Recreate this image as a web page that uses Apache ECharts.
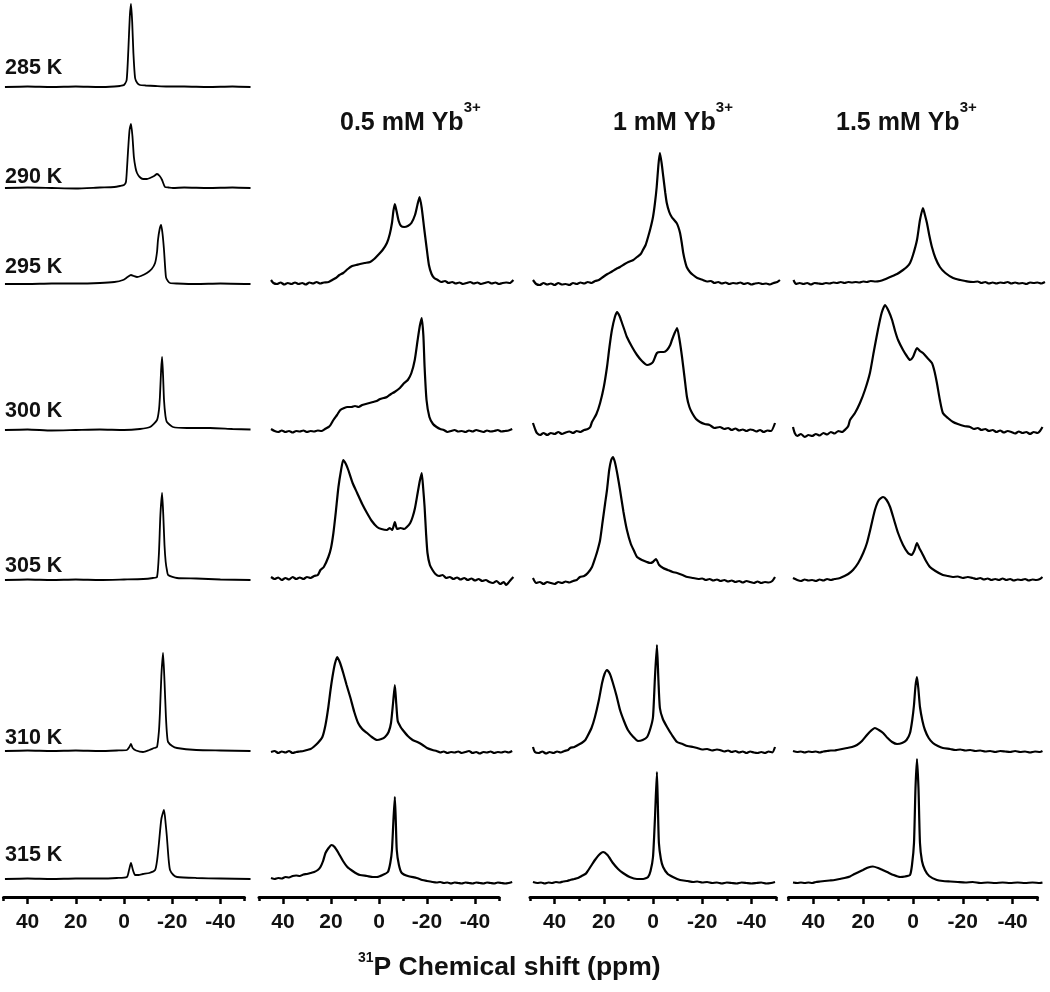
<!DOCTYPE html>
<html><head><meta charset="utf-8">
<script src="https://cdn.jsdelivr.net/npm/echarts@6/dist/echarts.min.js"></script>
<style>html,body{margin:0;padding:0;background:#fff}#c{width:1050px;height:992px}</style>
</head><body><div id="c"></div>
<script>
const FONT = 'Liberation Sans, Arial, Helvetica, sans-serif';
// axis tick values (ppm)
const majorTicks = [40, 20, 0, -20, -40];
const minorTicks = [50, 30, 10, -10, -30, -50];
// labels
const temps = ['285 K', '290 K', '295 K', '300 K', '305 K', '310 K', '315 K'];
const headers = ['0.5 mM Yb', '1 mM Yb', '1.5 mM Yb'];
const headerSup = '3+';
const axisSup = '31';
const axisTitle = 'P Chemical shift (ppm)';

// ---- spectra: [ppm, intensity (a.u.)] ----
// no Yb3+
const s0_285 = [[49.4,0],[40,0.5],[30,0],[20,0.5],[10,0],[4,0.5],[1.7,1],[0,2],[-1.1,7],[-1.8,37],[-2.4,70],[-2.9,83],[-3.4,65],[-3.9,34],[-4.6,9],[-5.5,4],[-6.6,2],[-9,1.5],[-13,1],[-18,0.5],[-25,0.5],[-35,0],[-45,0.5],[-52.5,0]];
const s0_290 = [[49.4,0],[40,0.5],[30,0],[20,-0.5],[10,0.5],[4,1],[1.7,2],[0,3],[-0.8,6],[-1.2,18],[-1.7,38],[-2.3,58],[-2.9,64],[-3.5,52],[-4.1,31],[-4.8,20],[-5.4,15],[-6.5,11],[-7.9,9],[-9.5,9],[-10.8,10],[-12.5,12],[-13.7,14],[-14.8,12],[-15.8,8],[-17,1],[-18.5,0.5],[-20.3,0],[-25,0.5],[-35,0],[-45,0.5],[-52.5,0]];
const s0_295 = [[49.4,0],[40,0],[30,0.5],[20,0.5],[10,1],[4,2],[0.4,4],[-1.5,7],[-2.9,9],[-4,8],[-5.4,7],[-7,8],[-9.5,11],[-11.5,15],[-12.9,21],[-13.7,32],[-14.1,44],[-14.8,55],[-15.4,59],[-16,50],[-16.6,34],[-17.4,7],[-18.2,3],[-19.1,1],[-22,0.5],[-30,0],[-40,0.5],[-52.5,0]];
const s0_300 = [[49.4,0],[40,0.5],[30,-0.5],[20,0],[10,0.5],[0,0],[-6.6,1],[-10.8,3],[-13.7,10],[-14.5,20],[-14.9,33],[-15.4,60],[-15.8,73],[-16.2,55],[-16.6,30],[-17.2,14],[-17.8,8],[-20.3,3],[-26.1,2],[-35.7,2],[-45,1],[-52.5,0.5]];
const s0_305 = [[49.4,0],[40,0.5],[30,0],[20,0.5],[10,0],[0,0.5],[-8,1],[-12,2],[-13.7,3],[-14.5,27],[-15.1,65],[-15.8,87],[-16.3,65],[-16.8,35],[-17.3,18],[-17.8,10],[-18.3,5],[-22,2],[-30,1.5],[-40,0.5],[-52.5,0]];
const s0_310 = [[49.4,0],[40,0.5],[30,0],[20,0.5],[10,0],[3,0.5],[-1.2,1],[-2.2,4],[-2.9,7],[-3.6,3],[-5,0.5],[-7.9,-1],[-10.5,1],[-12.5,3],[-13.7,4],[-14.5,20],[-14.9,38],[-15.5,75],[-16.2,98],[-16.8,70],[-17.4,34],[-17.9,15],[-18.3,9],[-20,5],[-22,3],[-30,1],[-40,0.5],[-52.5,0]];
const s0_315 = [[49.4,0],[40,0.5],[30,0],[20,0.5],[10,0.5],[3,1],[-1.2,2],[-2.1,9],[-2.9,16],[-3.7,9],[-4.6,4],[-6,4],[-7.9,5],[-10.5,6],[-12.9,9],[-13.8,20],[-14.5,36],[-15.5,60],[-16.6,69],[-17.3,55],[-17.8,42],[-18.5,20],[-19.1,9],[-20.5,4],[-22,2],[-30,1],[-40,0.5],[-52.5,0]];

// 0.5 mM Yb3+
const s1_295 = [[45,3],[44,0],[42.5,-1],[41,0.5],[39.5,-1.5],[38,0],[36.5,-1],[35,0.5],[33.5,-1],[32,0],[30.5,-1.5],[29,0.5],[27.5,-0.5],[26,1],[24.5,-0.5],[23,0.5],[21,1],[19.5,3],[18,5],[16.5,8],[14.9,10],[13,14],[11.2,17],[9.5,18],[7.9,19],[6,20],[3.7,21],[2,24],[0.4,28],[-1.5,33],[-3.3,40],[-4.5,49],[-5.4,60],[-6,72],[-6.6,79],[-7.3,72],[-8.2,62],[-9.2,57],[-10.5,56],[-12,57],[-13.5,60],[-15,68],[-16,78],[-16.9,86],[-17.8,75],[-18.8,55],[-19.8,36],[-20.8,18],[-21.9,9],[-23,5],[-24.5,3],[-26,1],[-27.5,2],[-29,0],[-30.5,1],[-32,-0.5],[-33.5,0.5],[-35,-1],[-36.5,0],[-38,1],[-39.5,-0.5],[-41,0.5],[-42.5,-1],[-44,0],[-45.5,1],[-47,-0.5],[-48.5,0.5],[-50,-1],[-51.5,0],[-53,0.5],[-54.5,0],[-56,3]];
const s1_300 = [[45,2],[43.5,0],[42,-1],[40.5,0.5],[39,-1],[37.5,0],[36,-1.5],[34.5,0],[33,-0.5],[31.5,0.5],[30,-1],[28.5,0],[27,-0.5],[25.5,0.5],[24,0],[22.5,2],[21,4],[20.2,6],[19,11],[17.5,16],[16.1,21],[14.5,23],[13.2,24],[11.5,24],[10,25],[8.5,24],[7,26],[5.5,27],[4,28],[2.5,29],[1,30],[-0.5,32],[-2,33],[-3.3,34],[-5,37],[-6.5,39],[-8.7,43],[-10.5,48],[-12,51],[-13.5,58],[-14.9,71],[-16.1,91],[-17,105],[-17.8,113],[-18.5,95],[-19,64],[-19.8,31],[-21,14],[-22.5,7],[-24,4],[-25.5,2],[-27,1],[-28.5,-1],[-30,0],[-31.5,1],[-33,-0.5],[-34.5,0],[-36,-1],[-37.5,0.5],[-39,-0.5],[-40.5,1],[-42,0],[-43.5,-1],[-45,0.5],[-46.5,-0.5],[-48,0],[-49.5,1],[-51,-0.5],[-52.5,0],[-54,0.5],[-55.5,2]];
const s1_305 = [[45,1],[43.5,-1],[42,0.5],[40.5,-2],[39,0],[37.5,-1.5],[36,1],[34.5,-1],[33,0.5],[31.5,-1],[30,1],[28.5,0],[27,2],[25.5,3],[24.4,8],[23,11],[21.1,21],[20,30],[19,45],[18,66],[16.9,91],[15.8,108],[14.9,118],[13.8,114],[12.8,108],[11,95],[9.1,85],[7,74],[5,65],[3,57],[0.8,51],[-1,49],[-3.3,48],[-4.5,50],[-5.5,48],[-6.6,56],[-7.5,49],[-9,50],[-10.5,49],[-11.6,51],[-13,55],[-14,61],[-15,70],[-16.1,85],[-17,97],[-17.8,105],[-18.4,90],[-19,71],[-19.6,45],[-20.2,25],[-21.2,13],[-22.3,8],[-23.5,4],[-25,2],[-26.5,3],[-28,0],[-29.5,1],[-31,-1],[-32.5,0.5],[-34,-1.5],[-35.5,0],[-37,-2],[-38.5,-0.5],[-40,-2.5],[-41.5,-1],[-43,-3],[-44.5,-2],[-46,-4],[-47.5,-5],[-49,-3],[-50.5,-6],[-52,-4],[-53,-7],[-54.5,-3],[-56,1]];
const s1_310 = [[45,0],[43.5,1],[42,-1],[40.5,0.5],[39,-0.5],[37.5,1],[36,-1],[34.5,0],[33,0.5],[31.5,1],[30,2],[28.5,3],[27.3,5],[25.5,9],[23.6,15],[22.3,27],[21.1,45],[20.2,62],[19.4,75],[18.4,88],[17.4,95],[16.2,89],[14.9,79],[13.5,67],[12,55],[10.3,40],[8.7,29],[7,23],[5,19],[3,15],[0.8,12],[-1,13],[-2.5,15],[-4,20],[-5,29],[-5.9,50],[-6.6,67],[-7.2,48],[-7.8,31],[-9,25],[-9.9,22],[-12,16],[-14,12],[-16,10],[-18.2,7],[-20,4],[-22.3,2],[-24,1],[-25.5,-0.5],[-27,0.5],[-28.5,-1],[-30,0],[-31.5,-0.5],[-33,0.5],[-34.5,-1],[-36,0],[-37.5,1],[-39,-1],[-40.5,0],[-42,-1.5],[-43.5,0],[-45,-0.5],[-46.5,0.5],[-48,-1],[-49.5,0],[-51,-0.5],[-52.5,0.5],[-54,-0.5],[-55.5,1]];
const s1_315 = [[45,5],[43.5,4],[42,5],[40.5,4.5],[39,6],[37.5,5.5],[36,7],[34.5,7.5],[33,7],[31.5,8.5],[30,9],[28.5,10],[27,11],[25.5,13],[24.4,16],[23.3,22],[22.3,30],[21,35],[19.8,38],[18.5,36],[16.9,30],[15,22],[13.2,16],[11,12],[9,9],[7.9,8],[5,7],[2.5,6],[0.8,6],[-1.5,8],[-3.7,11],[-4.7,20],[-5.4,33],[-6,62],[-6.6,86],[-7,62],[-7.4,33],[-8.3,18],[-9.5,10],[-12,7],[-15.7,5],[-18,3],[-20,2],[-22.3,1],[-24,0.5],[-25.5,1],[-27,0],[-28.5,0.5],[-30,-0.5],[-31.5,0.5],[-33,0],[-34.5,-0.5],[-36,0.5],[-37.5,0],[-39,-0.5],[-40.5,0.5],[-42,0],[-43.5,-0.5],[-45,0.5],[-46.5,0],[-48,-0.5],[-49.5,0.5],[-51,0],[-52.5,-0.5],[-54,0],[-55.5,1]];

// 1 mM Yb3+
const s2_295 = [[48.8,3],[47.5,-1],[46,-2],[44.5,0],[43,-1.5],[41.5,-0.5],[40,-2],[38.5,0],[37,-1.5],[35.5,-1],[34,-2],[32.5,0],[31,-1],[29.5,0.5],[28,-0.5],[26.5,1],[25,0],[23.5,2],[22,3],[20.3,6],[18.5,9],[17,11],[15,14],[13.4,16],[11.5,19],[10,21],[8,23],[6.5,26],[5,29],[4.1,33],[3,38],[2,46],[1,55],[0,66],[-0.8,80],[-1.5,96],[-2.2,118],[-2.8,130],[-3.5,120],[-4.2,106],[-5,90],[-5.6,80],[-6.6,71],[-7.6,66],[-8.6,63],[-9.6,60],[-10.3,56],[-11,50],[-11.7,40],[-12.3,30],[-13,22],[-13.7,16],[-15,11],[-16.3,8],[-18,5],[-20.3,3],[-22,1.5],[-23.5,2],[-25,0],[-26.5,1],[-28,-0.5],[-29.5,0.5],[-31,-1],[-32.5,0],[-34,-0.5],[-35.5,0.5],[-37,-1],[-38.5,0],[-40,-1.5],[-41.5,-0.5],[-43,0],[-44.5,-1],[-46,-0.5],[-47.5,-1.5],[-49,0],[-50.5,1],[-51.6,3]];
const s2_300 = [[48.8,9],[47.8,2],[47.2,-1],[45.9,-3],[44.5,-1],[43,-3],[41.5,-1],[40,-2],[38.5,0],[37,-2],[35.5,-0.5],[34,0.5],[32.5,-1],[31,1],[29.5,0],[28,2],[26.5,3],[25.5,5],[24.8,10],[23,18],[21.5,29],[20,45],[18.7,65],[17.7,85],[16.7,102],[15.5,115],[14.6,120],[13.6,116],[12.6,109],[11.6,102],[10.6,95],[8.5,85],[6.5,77],[4.5,71],[2.4,67],[1,68],[0,70],[-1.6,79],[-3,80],[-4.4,80],[-5.7,82],[-7,87],[-7.7,92],[-8.8,99],[-9.8,104],[-10.8,92],[-11.8,75],[-12.8,55],[-13.8,35],[-14.8,25],[-15.9,19],[-17.5,13],[-19.1,10],[-21,8],[-23,7],[-25,4],[-27.2,5],[-29,3],[-30.5,4],[-32,2],[-33.5,3.5],[-35,1.5],[-36.5,2.5],[-38,1],[-39.5,2.5],[-40.7,2],[-42,0.5],[-43.5,2],[-45,0],[-46.5,1.5],[-48,1],[-49.6,9]];
const s2_305 = [[48.8,4],[47.5,-1],[46,0],[44.5,-2],[43,0],[41.5,-1],[40,-2],[38.5,0],[37,-1],[35.5,0.5],[34,-0.5],[32.5,1],[31,2],[29.7,5],[28,6],[26.5,9],[24.8,15],[23.5,24],[22.5,32],[21.5,42],[20.5,60],[19.5,78],[18.7,92],[17.8,112],[17,122],[16.3,125],[15.5,120],[14.5,108],[13.4,92],[12,70],[10.6,52],[9,38],[7.5,30],[6.5,25],[4.5,22],[2.5,20],[1.2,19],[0,20],[-1.2,23],[-2.5,17],[-4.1,14],[-6,12],[-8,10],[-9.8,9],[-12,7],[-14,5],[-16.3,4],[-18.5,3],[-20,3.5],[-21.5,2],[-23,3],[-24.5,1.5],[-26,2.5],[-27.5,1],[-29,2],[-30.5,0.5],[-32,1.5],[-33.5,0],[-35,1],[-36.5,-0.5],[-38,1],[-39.5,0],[-41,-1],[-42.5,0.5],[-44,-1],[-45.5,0],[-47,-0.5],[-48.5,1],[-49.6,5]];
const s2_310 = [[48.8,5],[48,0],[46.5,-1],[45,0.5],[43.5,-1.5],[42,0],[40.5,-1],[39,0.5],[37.5,-0.5],[36,1],[34.5,2],[33.7,4],[32,5],[30.5,7],[29,9],[27.5,12],[26.8,15],[25,24],[23.6,35],[22,52],[20.7,69],[19.7,78],[18.7,82],[17.5,78],[16.3,69],[14.8,56],[13.4,42],[11.8,31],[10.2,22],[8,15],[6.1,11],[4.2,12],[2.4,15],[1,24],[0,35],[-0.8,75],[-1.6,107],[-2.2,72],[-2.8,44],[-4,33],[-5.7,25],[-7.7,17],[-9.8,10],[-12,8],[-14,6],[-16.3,5],[-18,4],[-20,2.5],[-22,3],[-24,1.5],[-26,2.5],[-27.2,2],[-29,0.5],[-30.5,1.5],[-32,0],[-33.5,1],[-35,-0.5],[-36.5,0.5],[-38,-1],[-39.5,0.5],[-41,-0.5],[-42.5,-1],[-44,0],[-45.5,-1],[-47,0.5],[-48.5,-0.5],[-49.6,5]];
const s2_315 = [[48.8,1],[47,0],[45.5,0.5],[44,-0.5],[42.5,0.5],[41,0],[39.5,1],[38,0.5],[36.5,1.5],[35,2],[33.7,3],[32,4],[30.5,5],[29,7],[27.5,9],[26.8,11],[25.2,17],[23.6,23],[22,28],[20.3,31],[18.5,28],[16.3,20],[14.2,14],[12.2,10],[9.5,6],[6.5,4],[4,4],[2,6],[1,12],[0,26],[-0.8,65],[-1.6,111],[-2,75],[-2.4,40],[-3.2,24],[-4.1,16],[-6,9],[-8.1,6],[-11,3],[-14,2],[-16.3,1],[-18,1.5],[-20,0.5],[-22,1],[-24,0],[-26,0.5],[-28,-0.5],[-30,0.5],[-32,0],[-34,-0.5],[-36,0.5],[-38,0],[-40,-0.5],[-42,0],[-44,0.5],[-46,-0.5],[-48,0],[-49.6,1]];

// 1.5 mM Yb3+
const s3_295 = [[48,3],[47,-1],[45.5,0],[44,-1],[42.5,0],[41,-1.5],[39.5,0],[38,-0.5],[36.5,-1],[35,0],[33.5,-0.5],[32,0.5],[30.5,0],[29,1],[27.5,0],[26,1],[24.5,0.5],[23,1],[21.5,0.5],[20,1.5],[18.5,1],[17,2],[15,1.5],[13.3,2],[11.5,3.5],[9.2,6],[6.4,9],[4,13],[2.5,16],[1.2,20],[0,28],[-1.6,43],[-2.8,63],[-4,75],[-4.8,68],[-5.6,60],[-6.6,47],[-7.6,36],[-9,25],[-10.8,16],[-13,10],[-16.1,5],[-19,3],[-21,2],[-24.1,1],[-26,1.5],[-27.5,0],[-29,1],[-30.5,-0.5],[-32,0.5],[-33.5,-0.5],[-35,0.5],[-36.5,0],[-38,1],[-39.5,-0.5],[-41,0.5],[-42.5,-0.5],[-44,0],[-45.5,-1],[-47,0.5],[-48.5,0],[-50,0.5],[-51.5,-0.5],[-53,1]];
const s3_300 = [[48.2,6],[47.5,0],[46.5,-3],[45,-1],[43.5,-4],[42,-2],[40.5,-3],[39,-1],[37.5,-2.5],[36,0],[34.5,-1.5],[33,1],[31.5,-0.5],[30,2],[28.5,1],[27,4],[26,7],[25.3,13],[23.3,20],[21.3,30],[19.3,43],[17.3,60],[15.7,82],[14.1,103],[12.6,120],[11.2,128],[9.8,122],[8.4,113],[7.2,102],[6,93],[4,83],[2.5,77],[1.2,73],[0,76],[-1.6,85],[-2.8,82],[-4,80],[-5.8,75],[-7.6,70],[-8.6,62],[-9.6,50],[-10.8,33],[-12,20],[-14,15],[-16.1,11],[-18,9],[-20.5,7],[-22.9,6],[-24.5,4],[-26,5],[-27.5,3],[-29,4],[-30.5,2],[-32,3],[-33.5,1],[-35,2.5],[-36.5,0.5],[-38,2],[-39.5,1],[-41,-0.5],[-42.5,1.5],[-44,0],[-45.5,1],[-47,-1],[-48.5,1],[-50,0],[-51,2],[-52,6]];
const s3_305 = [[48.2,2],[46.5,0],[45,-1],[43.5,0.5],[42,-0.5],[40.5,0],[39,-1],[37.5,0.5],[36,-0.5],[34.5,1],[33,0],[31.5,1],[30,1.5],[29.3,2],[27.5,4],[26,6],[24.1,10],[22,17],[20,27],[18.5,37],[17,52],[15.3,70],[13.7,80],[12,83],[10.6,80],[9.2,73],[7.6,60],[6,47],[4,35],[2,27],[0.5,25],[-0.6,30],[-1.6,37],[-2.5,32],[-3.6,27],[-5,20],[-6.8,13],[-9,9],[-12,5],[-14,4],[-16,3],[-18,3.5],[-20,2],[-22,3],[-24,2],[-25.5,1],[-27,2],[-28.5,0.5],[-30,1.5],[-31.5,0],[-33,1],[-34.5,0],[-36,1.5],[-37.5,0],[-39,1],[-40.5,-0.5],[-42,0.5],[-43.5,0],[-45,1],[-46.5,-0.5],[-48,0.5],[-49.5,0],[-51,1],[-52,3]];
const s3_310 = [[48.2,1],[46.5,0],[45,0.5],[43.5,-0.5],[42,0.5],[40.5,0],[39,0.5],[37.5,-0.5],[36,0.5],[34.5,1],[33,1.5],[31.5,1.5],[30.5,2],[28.5,3],[26.5,4],[24.5,5],[22.5,7],[20.5,11],[18.5,17],[17,21],[15.3,24],[13.7,22],[12,19],[10.2,14],[8.4,10],[6.4,8],[4.4,9],[2.6,12],[1.2,19],[0.3,32],[-0.4,47],[-1,66],[-1.6,75],[-2.2,62],[-2.8,45],[-3.8,31],[-4.8,22],[-6.3,14],[-8,9],[-10,6],[-12,4],[-14.9,3],[-17,2],[-19,2.5],[-21,1.5],[-23,2],[-25,1],[-27,1.5],[-29,0.5],[-31,1],[-33,0],[-35,1],[-37,0.5],[-39,0],[-41,1],[-43,0],[-45,0.5],[-47,-0.5],[-49,0.5],[-51,0],[-52,1]];
const s3_315 = [[48.2,0.5],[46.5,0],[45,0.5],[43.5,0],[42,0.5],[40.5,0],[39,1],[37.3,1.5],[35.5,2],[33.5,2.5],[31.5,3],[29.5,4],[27.5,5],[25.3,6.5],[23.5,9],[21.8,11],[20.1,13],[18,15.5],[16.1,16.5],[14,15],[12.2,13],[10.4,11],[7.8,8],[5.2,6],[3.2,6.5],[1.2,8],[0.4,18],[-0.4,40],[-1,95],[-1.6,124],[-2.2,95],[-2.8,40],[-3.6,22],[-4.8,13],[-6.5,7],[-9.6,3],[-12,2],[-15,1.5],[-18,1],[-21,0.5],[-24,1],[-27,0],[-30,0.5],[-33,0],[-36,0.5],[-39,0],[-42,0.5],[-45,0],[-48,0.5],[-51,0],[-52,0.5]];

// ---- layout ----
const columns = [
  {x0: 124, k: 2.41, lw: 1.8, base: [87, 188, 284, 430, 580, 751, 879], data: [s0_285, s0_290, s0_295, s0_300, s0_305, s0_310, s0_315]},
  {x0: 379, k: 2.40, lw: 2.2, base: [283, 431, 578, 752, 883], data: [s1_295, s1_300, s1_305, s1_310, s1_315]},
  {x0: 653, k: 2.46, lw: 2.2, base: [283, 432, 582, 752, 883], data: [s2_295, s2_300, s2_305, s2_310, s2_315]},
  {x0: 913, k: 2.49, lw: 2.2, base: [283, 433, 580, 752, 883], data: [s3_295, s3_300, s3_305, s3_310, s3_315]}
];
const tempTops = [56, 165, 255, 399, 554, 726, 843];
const headerLefts = [340, 613, 836];

const grid = [], xAxis = [], yAxis = [], series = [];
columns.forEach(col => {
  col.data.forEach((d, i) => {
    const gi = grid.length, xi = xAxis.length, yi = yAxis.length;
    grid.push({left: col.x0 - 52 * col.k, width: 109 * col.k, top: col.base[i] - 130, height: 140, containLabel: false, outerBoundsMode: 'none'});
    xAxis.push({type: 'value', gridIndex: gi, min: -57, max: 52, inverse: true, show: false});
    yAxis.push({type: 'value', gridIndex: gi, min: -10, max: 130, show: false});
    series.push({type: 'line', xAxisIndex: xi, yAxisIndex: yi, data: d, showSymbol: false, symbol: 'none',
      smooth: 0.2, lineStyle: {color: '#000', width: col.lw}, silent: true, animation: false});
  });
  const gi = grid.length;
  grid.push({left: col.x0 - 50 * col.k, width: 100 * col.k, top: 850, height: 47, containLabel: false, outerBoundsMode: 'none'});
  xAxis.push({type: 'value', gridIndex: gi, min: -50, max: 50, inverse: true, position: 'bottom',
    axisLine: {show: true, onZero: false, lineStyle: {color: '#000', width: 3, cap: 'round'}},
    axisTick: {show: true, length: 7, lineStyle: {color: '#000', width: 2.5}, customValues: majorTicks},
    axisLabel: {show: true, customValues: majorTicks, fontSize: 21, fontWeight: 'bold', fontFamily: FONT, color: '#111', margin: 15},
    splitLine: {show: false}});
  xAxis.push({type: 'value', gridIndex: gi, min: -50, max: 50, inverse: true, position: 'bottom', offset: 0,
    axisLine: {show: false, onZero: false},
    axisTick: {show: true, length: 4, lineStyle: {color: '#000', width: 2.5}, customValues: minorTicks},
    axisLabel: {show: false}, splitLine: {show: false}});
  yAxis.push({type: 'value', gridIndex: gi, min: 0, max: 1, show: false});
});

const title = [];
temps.forEach((t, i) => title.push({text: t, left: 5, top: tempTops[i], padding: 0,
  textStyle: {fontSize: 21.5, fontWeight: 'bold', fontFamily: FONT, color: '#111', lineHeight: 24}}));
headers.forEach((h, i) => title.push({text: '{m|' + h + '}{s|' + headerSup + '}', left: headerLefts[i], top: 100, padding: 0,
  textStyle: {rich: {
    m: {fontSize: 25, fontWeight: 'bold', fontFamily: FONT, color: '#111', lineHeight: 46},
    s: {fontSize: 15, fontWeight: 'bold', fontFamily: FONT, color: '#111', lineHeight: 16, verticalAlign: 'top'}}}}));
title.push({text: '{s|' + axisSup + '}{m|' + axisTitle + '}', left: 358, top: 951, padding: 0,
  textStyle: {rich: {
    m: {fontSize: 26.5, fontWeight: 'bold', fontFamily: FONT, color: '#111', lineHeight: 34},
    s: {fontSize: 14, fontWeight: 'bold', fontFamily: FONT, color: '#111', lineHeight: 16, verticalAlign: 'top'}}}});

const chart = echarts.init(document.getElementById('c'), null, {renderer: 'canvas'});
chart.setOption({backgroundColor: '#fff', animation: false, title, grid, xAxis, yAxis, series});
</script>
</body></html>
